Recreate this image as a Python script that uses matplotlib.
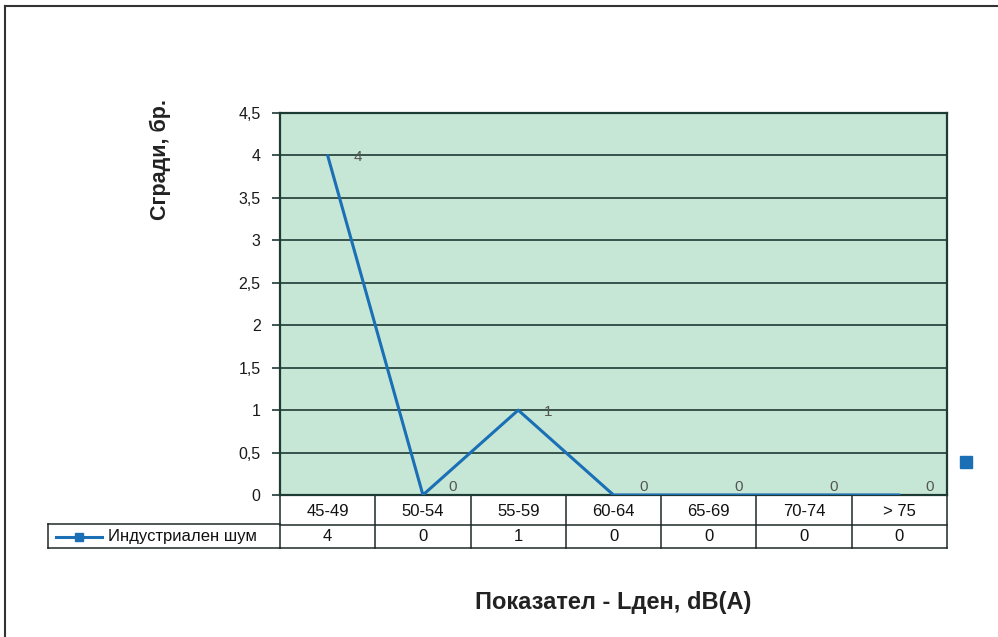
import numpy as np
import matplotlib.pyplot as plt
from matplotlib.lines import Line2D
from matplotlib.transforms import blended_transform_factory

plt.rcParams['font.family'] = ['Liberation Sans', 'DejaVu Sans']

categories = ['45-49', '50-54', '55-59', '60-64', '65-69', '70-74', '> 75']
buildings = [4, 0, 1, 0, 0, 0, 0]
series_name = 'Индустриален шум'
y_ticks = [0, 0.5, 1, 1.5, 2, 2.5, 3, 3.5, 4, 4.5]
y_tick_labels = ['0', '0,5', '1', '1,5', '2', '2,5', '3', '3,5', '4', '4,5']

W, H = 998, 637
fig = plt.figure(figsize=(W / 100, H / 100), dpi=100)
fig.patch.set_facecolor('white')

def fx(px):
    return px / W

def fy(py):
    return 1 - py / H

# plot area in pixels
L, R, T, B = 280, 947, 113, 495
ax = fig.add_axes([fx(L), fy(B), (R - L) / W, (B - T) / H])
ax.set_facecolor('#c7e7d6')

x = np.arange(len(categories))
line_color = '#1a6fb5'
ax.plot(x, buildings, color=line_color, lw=2.2, solid_capstyle='round', zorder=3)
for xi, v in zip(x, buildings):
    ax.annotate(str(v), (xi, v), xytext=(30, -2 if v else 8), textcoords='offset pixels',
                ha='center', va='center', fontsize=11, color='#555555')

ax.set_xlim(-0.5, len(categories) - 0.5)
ax.set_ylim(0, 4.5)
ax.set_yticks(y_ticks)
ax.set_yticklabels(y_tick_labels, fontsize=11.5, color='#1a1a1a')
ax.set_xticks([])
ax.grid(axis='y', color='#1e3a35', lw=1.2)
ax.set_axisbelow(True)
ax.tick_params(axis='y', length=6, width=1.2, color='#1e3a35', pad=8)
for s in ax.spines.values():
    s.set_color('#1e3a35')
    s.set_linewidth(1.6)

# data table below the plot
row1_top, row1_bot, row2_bot = 495, 525, 548
tr = blended_transform_factory(ax.transData, fig.transFigure)
edges = np.arange(len(categories) + 1) - 0.5
tc = '#1e2a28'
for e in edges:
    ax.add_line(Line2D([e, e], [fy(row1_top), fy(row2_bot)], transform=tr, color=tc,
                       lw=1.1, clip_on=False))
for yy in (row1_bot, row2_bot):
    ax.add_line(Line2D([edges[0], edges[-1]], [fy(yy), fy(yy)], transform=tr, color=tc,
                       lw=1.1, clip_on=False))
for xi, c, v in zip(x, categories, buildings):
    ax.text(xi, fy((row1_top + row1_bot) / 2 + 1), c, transform=tr, ha='center', va='center',
            fontsize=12, color='#111111')
    ax.text(xi, fy((row1_bot + row2_bot) / 2), str(v), transform=tr, ha='center',
            va='center', fontsize=12, color='#111111')

# legend cell on the left of the table
fig.add_artist(Line2D([fx(48), fx(L)], [fy(row1_bot - 1), fy(row1_bot - 1)], color=tc, lw=1.1))
fig.add_artist(Line2D([fx(48), fx(L)], [fy(row2_bot), fy(row2_bot)], color=tc, lw=1.1))
fig.add_artist(Line2D([fx(48), fx(48)], [fy(row1_bot - 1), fy(row2_bot)], color=tc, lw=1.1))
ly = fy((row1_bot + row2_bot) / 2)
fig.add_artist(Line2D([fx(56), fx(79), fx(102)], [ly, ly, ly], color=line_color, lw=2.2,
                      marker='s', markevery=[1], markersize=6))
fig.text(fx(108), ly, series_name, ha='left', va='center', fontsize=12, color='#111111')

# stray legend key at the right edge
fig.add_artist(Line2D([fx(966)], [fy(462)], marker='s', markersize=9, color=line_color,
                      lw=0))

# axis titles
fig.text(fx(160), fy(160), 'Сгради, бр.', rotation=90, ha='center', va='center',
         fontsize=15.5, fontweight='bold', color='#222222')
fig.text(fx(613), fy(603), 'Показател - Lден, dB(A)', ha='center', va='center',
         fontsize=17, fontweight='bold', color='#222222')

# outer frame
fig.add_artist(Line2D([fx(5), fx(5)], [fy(6), 0], color='#333333', lw=1.5))
fig.add_artist(Line2D([fx(5), 1], [fy(6), fy(6)], color='#333333', lw=1.5))

fig.savefig('out.png', dpi=100)
